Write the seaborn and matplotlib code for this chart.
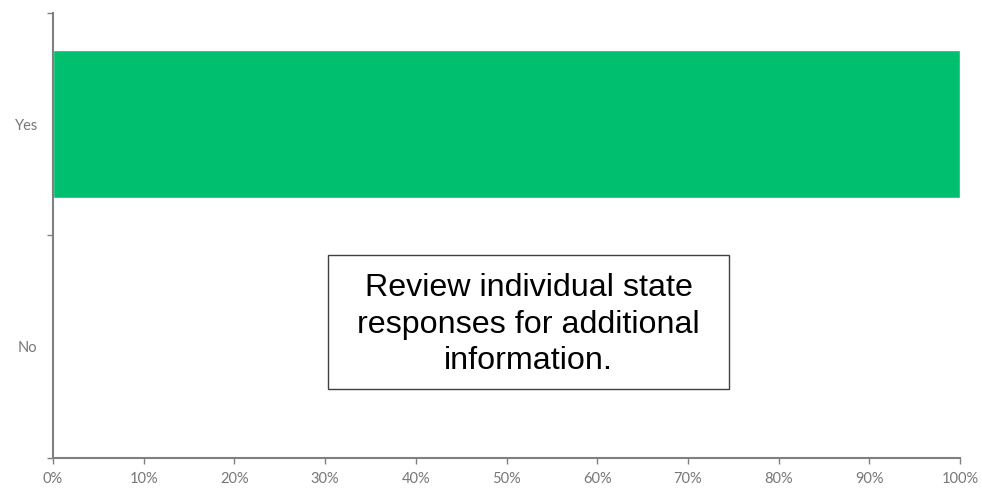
import matplotlib
matplotlib.use("Agg")
import matplotlib.pyplot as plt
from matplotlib.patches import Rectangle
import seaborn as sns
import pandas as pd

categories = ["Yes", "No"]
values = [100, 0]
xticks = [0, 10, 20, 30, 40, 50, 60, 70, 80, 90, 100]
xtick_labels = [f"{v}%" for v in xticks]
note = "Review individual state\nresponses for additional\ninformation."

sns.set_theme(style="white")
plt.rcParams["font.family"] = ["Liberation Sans", "DejaVu Sans"]

df = pd.DataFrame({"answer": categories, "pct": values})

fig = plt.figure(figsize=(9.82, 4.90), dpi=100)
ax = fig.add_axes([53/982, 1-458/490, (960-53)/982, (458-13)/490])

sns.barplot(data=df, x="pct", y="answer", orient="h", color="#00BF6F",
            saturation=1, width=0.665, ax=ax)

ax.set_xlim(0, 100)
ax.set_ylim(1.5, -0.5)
ax.set_xlabel("")
ax.set_ylabel("")

ax.set_xticks(xticks)
ax.set_xticklabels(xtick_labels, family=["Lato", "DejaVu Sans"])
ax.set_yticks([-0.5, 0.5, 1.5])
ax.set_yticklabels(["", "", ""])
ax.set_yticks([0, 1], minor=True)
ax.set_yticklabels(categories, minor=True, family=["Lato", "DejaVu Sans"])

spine_c = "#808080"
label_c = "#777777"
for s in ["top", "right"]:
    ax.spines[s].set_visible(False)
for s in ["left", "bottom"]:
    ax.spines[s].set_color(spine_c)
    ax.spines[s].set_linewidth(1.5)

ax.tick_params(axis="x", which="major", direction="out", length=4, width=1,
               color=spine_c, labelcolor=label_c, labelsize=10.5, pad=6, bottom=True)
ax.tick_params(axis="y", which="major", direction="out", length=4, width=1,
               color=spine_c, left=True)
ax.tick_params(axis="y", which="minor", length=0, labelcolor=label_c,
               labelsize=10.5, pad=11, left=True)

x0 = (328-53)/907
x1 = (729-53)/907
y0 = (458-389)/445
y1 = (458-255)/445
ax.add_patch(Rectangle((x0, y0), x1-x0, y1-y0, transform=ax.transAxes,
                       facecolor="white", edgecolor="#404040", linewidth=1, zorder=5))
ax.text((x0+x1)/2, (y0+y1)/2 - 2.5/445, note, transform=ax.transAxes, ha="center",
        va="center", fontsize=23.2, color="black", linespacing=1.3, zorder=6)

fig.savefig("out.png", dpi=100)
